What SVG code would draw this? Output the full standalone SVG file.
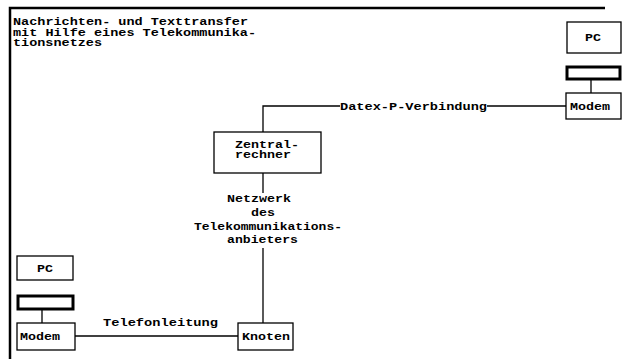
<svg xmlns="http://www.w3.org/2000/svg" width="623" height="359" viewBox="0 0 623 359">
<style>
text{font-family:"Liberation Mono","DejaVu Sans Mono",monospace;font-weight:bold;font-size:10.5px;fill:#000}
.box{fill:#fff;stroke:#000;stroke-width:1.3}
.bar{fill:#fff;stroke:#000;stroke-width:3}
.ln{fill:none;stroke:#000;stroke-width:1.3}
.frame{fill:none;stroke:#000;stroke-width:2.5}
</style>
<rect width="623" height="359" fill="#fff"/>
<g id="frame">
<path class="frame" d="M10,359 V8 H605"/>
</g>
<g id="title">
<text x="13" y="25" textLength="235" lengthAdjust="spacingAndGlyphs">Nachrichten- und Texttransfer</text>
<text x="13" y="35.5" textLength="243" lengthAdjust="spacingAndGlyphs">mit Hilfe eines Telekommunika-</text>
<text x="13" y="46" textLength="89" lengthAdjust="spacingAndGlyphs">tionsnetzes</text>
</g>
<g id="connectors">
<path class="ln" d="M566,106 H487"/>
<path class="ln" d="M340,106 H263 V132"/>
<path class="ln" d="M263,173 V193"/>
<path class="ln" d="M263,248 V323"/>
<path class="ln" d="M75,336 H238"/>
<path class="ln" d="M591,80 V93"/>
<path class="ln" d="M42,310 V323"/>
<text x="340" y="110" textLength="147" lengthAdjust="spacingAndGlyphs">Datex-P-Verbindung</text>
<text x="103" y="326" textLength="115" lengthAdjust="spacingAndGlyphs">Telefonleitung</text>
<text x="227" y="202" textLength="64" lengthAdjust="spacingAndGlyphs">Netzwerk</text>
<text x="251" y="216" textLength="24" lengthAdjust="spacingAndGlyphs">des</text>
<text x="194" y="230" textLength="148" lengthAdjust="spacingAndGlyphs">Telekommunikations-</text>
<text x="227" y="243" textLength="71" lengthAdjust="spacingAndGlyphs">anbieters</text>
</g>
<g id="pc-right">
<rect class="box" x="567" y="22" width="54" height="31"/>
<text x="585" y="41" textLength="16" lengthAdjust="spacingAndGlyphs">PC</text>
</g>
<g id="bar-right">
<rect class="bar" x="567" y="67" width="53" height="12"/>
</g>
<g id="modem-right">
<rect class="box" x="566" y="93" width="55" height="26"/>
<text x="570" y="110" textLength="40" lengthAdjust="spacingAndGlyphs">Modem</text>
</g>
<g id="zentralrechner">
<rect class="box" x="214" y="132" width="107" height="41"/>
<text x="235" y="147.5" textLength="64" lengthAdjust="spacingAndGlyphs">Zentral-</text>
<text x="235" y="158" textLength="56" lengthAdjust="spacingAndGlyphs">rechner</text>
</g>
<g id="pc-left">
<rect class="box" x="17" y="256" width="56" height="24"/>
<text x="37" y="272" textLength="16" lengthAdjust="spacingAndGlyphs">PC</text>
</g>
<g id="bar-left">
<rect class="bar" x="18" y="296" width="55" height="13"/>
</g>
<g id="modem-left">
<rect class="box" x="17" y="323" width="58" height="27"/>
<text x="20" y="340" textLength="40" lengthAdjust="spacingAndGlyphs">Modem</text>
</g>
<g id="knoten">
<rect class="box" x="238" y="323" width="55" height="27"/>
<text x="242" y="340" textLength="48" lengthAdjust="spacingAndGlyphs">Knoten</text>
</g>
</svg>
